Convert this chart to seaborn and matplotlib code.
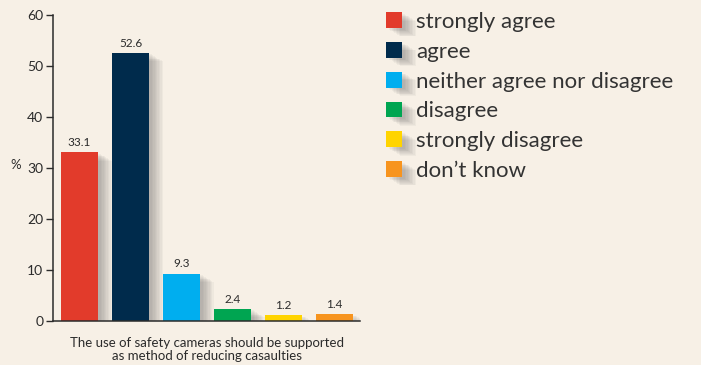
import matplotlib
matplotlib.use("Agg")
import matplotlib.pyplot as plt
import matplotlib.patheffects as pe
import pandas as pd
import seaborn as sns

# Survey answers
responses = ["strongly agree", "agree", "neither agree nor disagree",
             "disagree", "strongly disagree", "don\u2019t know"]
percent = [33.1, 52.6, 9.3, 2.4, 1.2, 1.4]
bar_colors = ["#E23B2B", "#002B4C", "#00AEEF", "#00A551", "#FFD400", "#F7941E"]
y_ticks = [0, 10, 20, 30, 40, 50, 60]
x_title = "The use of safety cameras should be supported\nas method of reducing casaulties"

df = pd.DataFrame({"response": responses, "percent": percent})

bg = "#F7F0E6"
ink = "#2B2B2B"

sns.set_theme(style="white")
plt.rcParams["font.family"] = ["Lato", "DejaVu Sans"]

fig = plt.figure(figsize=(7.01, 3.65), dpi=100, facecolor=bg)
ax = fig.add_axes([53 / 701, 1 - 321 / 365, (360 - 53) / 701, (321 - 15) / 365])
ax.set_facecolor(bg)

sns.barplot(data=df, x="response", y="percent", hue="response",
            hue_order=responses, order=responses, palette=bar_colors,
            width=0.725, dodge=False, saturation=1, legend=True, ax=ax)

# soft drop shadow behind the bars
shadow = [pe.SimplePatchShadow(offset=(o, -o * 0.6), shadow_rgbFace="#555555", alpha=0.05)
          for o in range(2, 11)] + [pe.Normal()]
for p in ax.patches:
    p.set_path_effects(shadow)
    p.set_edgecolor("none")

for c in ax.containers:
    ax.bar_label(c, fmt="%.1f", padding=3, fontsize=8.5, color=ink)

ax.set_xlim(-0.52, 5.5)
ax.set_ylim(0, 60)
ax.set_yticks(y_ticks)
ax.set_xticks([0.5, 1.5, 2.5, 3.5, 4.5])
ax.set_xticklabels([])
ax.tick_params(axis="x", direction="inout", length=6, width=1, color=ink)
ax.tick_params(axis="y", direction="out", length=5, width=1, color=ink,
               labelsize=10, labelcolor=ink, pad=2, left=True)
for s in ["top", "right"]:
    ax.spines[s].set_visible(False)
for s in ["left", "bottom"]:
    ax.spines[s].set_color(ink)
    ax.spines[s].set_linewidth(1.1)

ax.set_ylabel("%", rotation=0, fontsize=9.5, color=ink)
ax.yaxis.set_label_coords(-0.12, 0.49)
ax.set_xlabel(x_title, fontsize=9.5, color=ink, labelpad=5, linespacing=1.15)

handles, labels = ax.get_legend_handles_labels()
ax.legend(handles, labels, loc="upper left", bbox_to_anchor=(386 / 701, 1 - 12 / 365),
          bbox_transform=fig.transFigure, frameon=False, fontsize=16,
          handlelength=0.72, handleheight=0.72, handletextpad=0.64,
          labelspacing=0.44, borderpad=0, borderaxespad=0, labelcolor="#333333")

fig.savefig("out.png", dpi=100, facecolor=bg)
